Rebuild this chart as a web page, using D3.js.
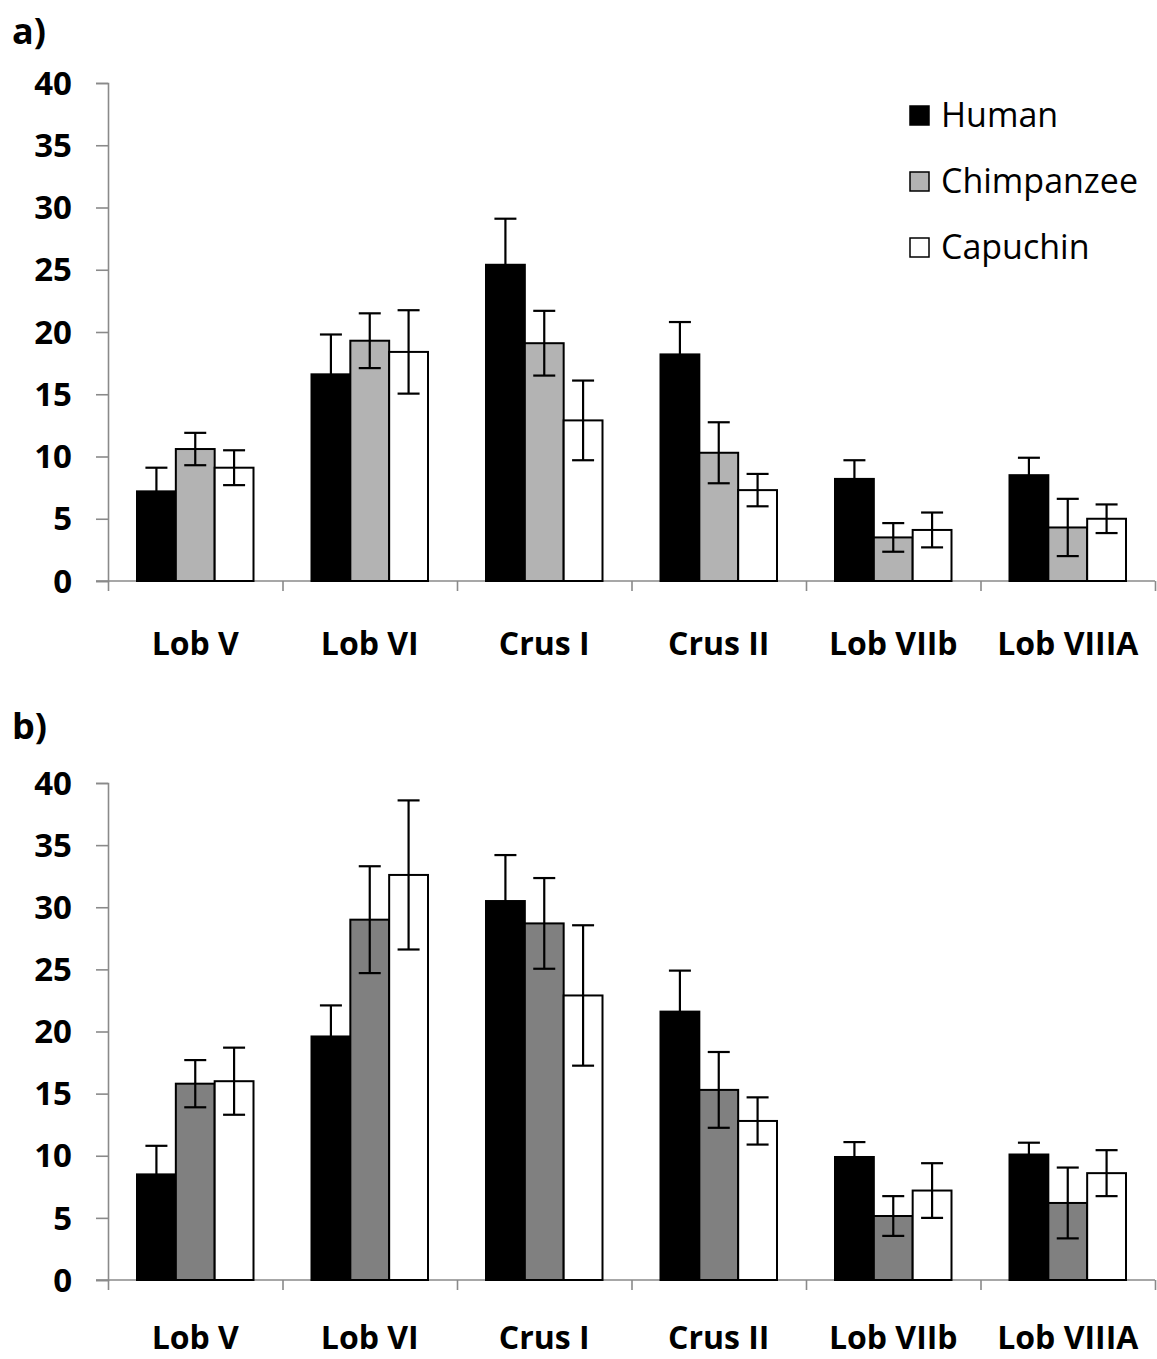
<!DOCTYPE html>
<html><head><meta charset="utf-8">
<script src="https://cdn.jsdelivr.net/npm/d3@7"></script>
<style>body{margin:0;background:#fff;} svg{display:block;}</style>
</head><body>
<svg id="chart" width="1157" height="1359"></svg>
<script>
const categories = ["Lob V", "Lob VI", "Crus I", "Crus II", "Lob VIIb", "Lob VIIIA"];
const species = ["Human", "Chimpanzee", "Capuchin"];
const yTicks = [0, 5, 10, 15, 20, 25, 30, 35, 40];

// Panel a
const aHuman = [7.2, 16.6, 25.4, 18.2, 8.2, 8.5];
const aHumanErr = [1.9, 3.2, 3.7, 2.6, 1.5, 1.4];
const aChimp = [10.6, 19.3, 19.1, 10.3, 3.5, 4.3];
const aChimpErr = [1.3, 2.2, 2.6, 2.45, 1.15, 2.3];
const aCapuchin = [9.1, 18.4, 12.9, 7.3, 4.1, 5.0];
const aCapuchinErr = [1.4, 3.35, 3.2, 1.3, 1.4, 1.15];

// Panel b
const bHuman = [8.5, 19.6, 30.5, 21.6, 9.9, 10.1];
const bHumanErr = [2.3, 2.5, 3.7, 3.3, 1.2, 0.95];
const bChimp = [15.8, 29.0, 28.7, 15.3, 5.15, 6.2];
const bChimpErr = [1.9, 4.3, 3.65, 3.05, 1.6, 2.85];
const bCapuchin = [16.0, 32.6, 22.9, 12.8, 7.2, 8.6];
const bCapuchinErr = [2.7, 6.0, 5.65, 1.9, 2.2, 1.85];

const svg = d3.select("#chart");
const FONT = "'Open Sans', sans-serif";

function panel(cfg) {
  const y = d3.scaleLinear().domain([0, 40]).range([cfg.y0, cfg.y40]);
  const xb = d3.scaleLinear().domain([0, categories.length]).range([108, 1155]);
  const x0 = d3.scaleBand().domain(categories).range([108, 1155]).padding(0);
  const x1 = d3.scaleBand().domain(species).range([29, x0.bandwidth() - 29]).padding(0);
  const fills = [ "#000000", cfg.chimpFill, "#ffffff" ];
  const g = svg.append("g");

  // panel letter
  g.append("text").attr("x", 12).attr("y", cfg.letterY)
    .attr("font-family", FONT).attr("font-weight", 700).attr("font-size", 36)
    .text(cfg.letter);

  // y axis
  const ya = g.append("g").attr("transform", "translate(108,0)")
    .call(d3.axisLeft(y).tickValues(yTicks).tickSize(12).tickPadding(24).tickFormat(d3.format("d")));
  ya.select(".domain").attr("stroke", "#8a8a8a").attr("stroke-width", 1.6);
  ya.selectAll(".tick line").attr("stroke", "#8a8a8a").attr("stroke-width", 1.6);
  ya.selectAll(".tick text").attr("font-family", FONT).attr("font-weight", 700)
    .attr("font-size", 33).attr("fill", "#000").attr("dy", "0.34em");

  // x axis (boundaries)
  const xa = g.append("g").attr("transform", `translate(0,${cfg.y0})`)
    .call(d3.axisBottom(xb).tickValues(d3.range(categories.length + 1)).tickSize(10).tickFormat(""));
  xa.select(".domain").attr("stroke", "none");
  xa.selectAll(".tick line").attr("stroke", "#8a8a8a").attr("stroke-width", 1.6);
  g.append("line").attr("x1", 96).attr("x2", 1155).attr("y1", y(0)).attr("y2", y(0))
    .attr("stroke", "#8a8a8a").attr("stroke-width", 1.6);

  // bars
  const series = [
    { name: species[0], vals: cfg.h, errs: cfg.he },
    { name: species[1], vals: cfg.c, errs: cfg.ce },
    { name: species[2], vals: cfg.p, errs: cfg.pe }
  ];
  series.forEach((s, si) => {
    const sg = g.append("g");
    sg.selectAll("rect").data(categories).join("rect")
      .attr("x", (c) => x0(c) + x1(s.name))
      .attr("y", (c, i) => y(s.vals[i]))
      .attr("width", x1.bandwidth())
      .attr("height", (c, i) => y(0) - y(s.vals[i]))
      .attr("fill", fills[si]).attr("stroke", "#000").attr("stroke-width", 2);
  });
  // error bars
  series.forEach((s, si) => {
    const eg = g.append("g").attr("stroke", "#000").attr("stroke-width", 2.2);
    categories.forEach((c, i) => {
      const cx = x0(c) + x1(s.name) + x1.bandwidth() / 2;
      const hi = y(s.vals[i] + s.errs[i]);
      const lo = y(s.vals[i] - s.errs[i]);
      eg.append("line").attr("x1", cx).attr("x2", cx).attr("y1", hi).attr("y2", lo);
      eg.append("line").attr("x1", cx - 11).attr("x2", cx + 11).attr("y1", hi).attr("y2", hi);
      eg.append("line").attr("x1", cx - 11).attr("x2", cx + 11).attr("y1", lo).attr("y2", lo);
    });
  });

  // category labels
  g.append("g").selectAll("text").data(categories).join("text")
    .attr("x", (c) => x0(c) + x0.bandwidth() / 2)
    .attr("y", cfg.labelY)
    .attr("text-anchor", "middle")
    .attr("font-family", FONT).attr("font-weight", 700).attr("font-size", 32)
    .text((c) => c);

  if (cfg.legend) {
    const lg = g.append("g");
    species.forEach((s, si) => {
      const cy = 115 + si * 66;
      lg.append("rect").attr("x", 910).attr("y", cy - 9).attr("width", 19).attr("height", 19)
        .attr("fill", fills[si]).attr("stroke", "#000").attr("stroke-width", 1.5);
      lg.append("text").attr("x", 941).attr("y", cy).attr("dy", "0.36em")
        .attr("font-family", FONT).attr("font-size", 34).attr("fill", "#000")
        .text(s);
    });
  }
}

panel({ letter: "a)", letterY: 44, y0: 581, y40: 83, labelY: 655, chimpFill: "#b3b3b3",
  h: aHuman, he: aHumanErr, c: aChimp, ce: aChimpErr, p: aCapuchin, pe: aCapuchinErr, legend: true });
panel({ letter: "b)", letterY: 739, y0: 1280, y40: 783, labelY: 1349, chimpFill: "#808080",
  h: bHuman, he: bHumanErr, c: bChimp, ce: bChimpErr, p: bCapuchin, pe: bCapuchinErr, legend: false });
</script>
</body></html>
